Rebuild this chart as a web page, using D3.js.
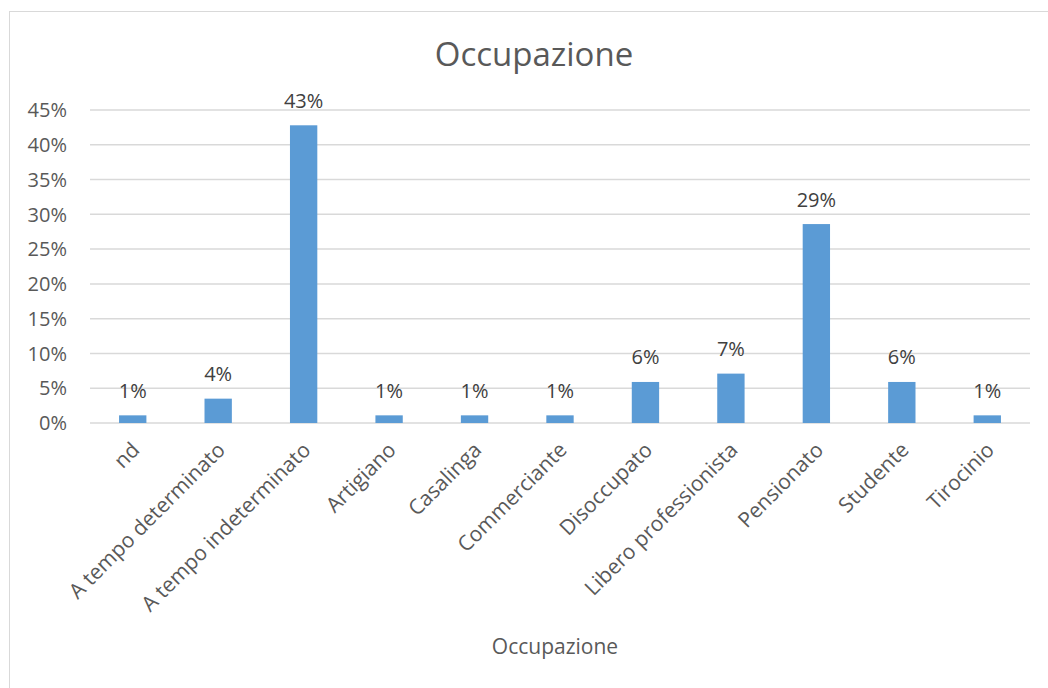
<!DOCTYPE html>
<html><head><meta charset="utf-8">
<script src="https://cdn.jsdelivr.net/npm/d3@7"></script>
<style>body{margin:0;background:#fff}svg{display:block}text{font-family:"Open Sans",sans-serif}</style>
</head><body><svg id="c" width="1048" height="688"></svg>
<script>
const categories = ["nd","A tempo determinato","A tempo indeterminato","Artigiano","Casalinga","Commerciante","Disoccupato","Libero professionista","Pensionato","Studente","Tirocinio"];
const values = [0.011,0.035,0.428,0.011,0.011,0.011,0.059,0.071,0.286,0.059,0.011];
const yTicks = [0,0.05,0.10,0.15,0.20,0.25,0.30,0.35,0.40,0.45];
const title = "Occupazione";
const xTitle = "Occupazione";

const svg = d3.select("#c");
svg.append("rect").attr("x",9.5).attr("y",11.5).attr("width",1100).attr("height",700)
  .attr("fill","#fff").attr("stroke","#d9d9d9").attr("stroke-width",1);

const m = {left:90,right:1030,top:110,bottom:423};
const x = d3.scaleBand().domain(categories).range([m.left,m.right]).paddingInner(0.68).paddingOuter(0.34);
const y = d3.scaleLinear().domain([0,0.45]).range([m.bottom,m.top]);

svg.append("g").selectAll("line").data(yTicks).join("line")
  .attr("x1",m.left).attr("x2",m.right).attr("y1",d=>y(d)).attr("y2",d=>y(d))
  .attr("stroke","#d9d9d9").attr("stroke-width",1.5);

svg.append("g").selectAll("text").data(yTicks).join("text")
  .attr("x",67).attr("y",d=>y(d)).attr("dy","0.36em").attr("text-anchor","end")
  .attr("font-size",20).attr("fill","#595959").text(d=>d3.format(".0%")(d));

svg.append("g").selectAll("rect").data(values).join("rect")
  .attr("x",(d,i)=>x(categories[i])).attr("width",x.bandwidth())
  .attr("y",d=>y(d)).attr("height",d=>y(0)-y(d)).attr("fill","#5b9bd5");

svg.append("g").selectAll("text").data(values).join("text")
  .attr("x",(d,i)=>x(categories[i])+x.bandwidth()/2).attr("y",d=>y(d)-17.5)
  .attr("text-anchor","middle").attr("font-size",20).attr("fill","#404040")
  .text(d=>Math.round(d*100)+"%");

svg.append("g").selectAll("text").data(categories).join("text")
  .attr("text-anchor","end").attr("font-size",21).attr("fill","#595959")
  .attr("transform",d=>`translate(${x(d)+x.bandwidth()/2+3},${m.bottom+23}) rotate(-45)`)
  .attr("dy","0.35em").text(d=>d);

svg.append("text").attr("x",534).attr("y",66).attr("text-anchor","middle")
  .attr("font-size",33).attr("fill","#595959").text(title);

svg.append("text").attr("x",555).attr("y",654).attr("text-anchor","middle")
  .attr("font-size",21).attr("fill","#595959").text(xTitle);
</script></body></html>
